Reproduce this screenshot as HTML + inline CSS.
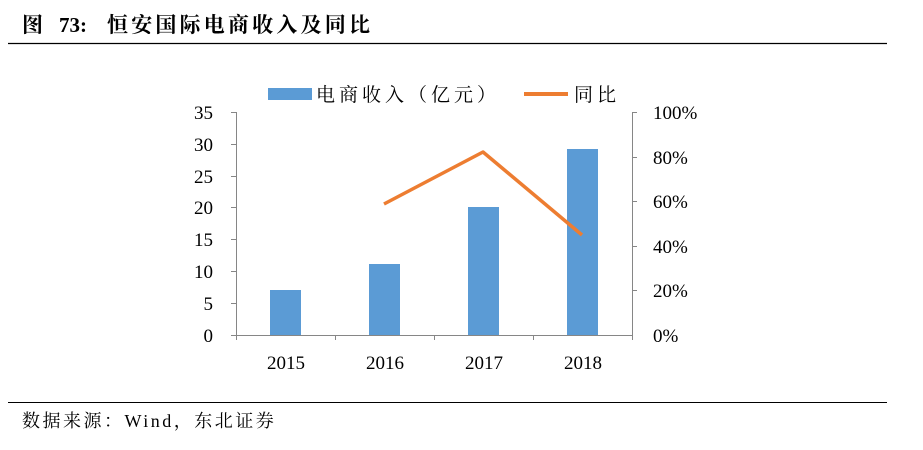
<!DOCTYPE html>
<html><head><meta charset="utf-8"><style>
body{margin:0;background:#fff;width:923px;height:450px;overflow:hidden}
svg{display:block}
</style></head><body>
<svg width="923" height="450" xmlns="http://www.w3.org/2000/svg" font-family="'Liberation Serif','Noto Serif CJK SC',serif">
<g font-size="21" font-weight="bold" fill="#000">
<text x="22" y="32">图</text>
<text x="59" y="32">73:</text>
<text x="107" y="32" letter-spacing="3.2">恒安国际电商收入及同比</text>
</g>
<line x1="8" y1="43.5" x2="887" y2="43.5" stroke="#000" stroke-width="1.2"/>
<rect x="268" y="88" width="44" height="12" fill="#5b9bd5"/>
<text x="316" y="101" font-size="19" letter-spacing="4" fill="#000">电商收入（亿元）</text>
<line x1="524" y1="94" x2="568" y2="94" stroke="#ed7d31" stroke-width="4"/>
<text x="574" y="101" font-size="19" letter-spacing="4" fill="#000">同比</text>
<g stroke="#868686" stroke-width="1">
<line x1="236.5" y1="112" x2="236.5" y2="335"/>
<line x1="632.5" y1="112" x2="632.5" y2="335"/>
<line x1="236" y1="335.5" x2="632" y2="335.5"/>
<line x1="231" y1="112.5" x2="236" y2="112.5"/><line x1="231" y1="144.5" x2="236" y2="144.5"/><line x1="231" y1="176.5" x2="236" y2="176.5"/><line x1="231" y1="207.5" x2="236" y2="207.5"/><line x1="231" y1="239.5" x2="236" y2="239.5"/><line x1="231" y1="271.5" x2="236" y2="271.5"/><line x1="231" y1="303.5" x2="236" y2="303.5"/><line x1="231" y1="335.5" x2="236" y2="335.5"/>
<line x1="632" y1="112.5" x2="637" y2="112.5"/><line x1="632" y1="157.5" x2="637" y2="157.5"/><line x1="632" y1="201.5" x2="637" y2="201.5"/><line x1="632" y1="246.5" x2="637" y2="246.5"/><line x1="632" y1="290.5" x2="637" y2="290.5"/>
<line x1="335.5" y1="335" x2="335.5" y2="340"/><line x1="434.5" y1="335" x2="434.5" y2="340"/><line x1="533.5" y1="335" x2="533.5" y2="340"/><line x1="632.5" y1="335" x2="632.5" y2="340"/><line x1="236.5" y1="335" x2="236.5" y2="340"/>
</g>
<g font-size="19" fill="#000" text-anchor="end">
<text x="213" y="119">35</text><text x="213" y="151">30</text><text x="213" y="183">25</text><text x="213" y="214">20</text><text x="213" y="246">15</text><text x="213" y="278">10</text><text x="213" y="310">5</text><text x="213" y="342">0</text>
</g>
<g font-size="19" fill="#000">
<text x="653" y="119">100%</text><text x="653" y="164">80%</text><text x="653" y="208">60%</text><text x="653" y="253">40%</text><text x="653" y="297">20%</text><text x="653" y="342">0%</text>
</g>
<g font-size="19" fill="#000" text-anchor="middle">
<text x="286" y="369">2015</text><text x="385" y="369">2016</text><text x="484" y="369">2017</text><text x="583" y="369">2018</text>
</g>
<g fill="#5b9bd5">
<rect x="270" y="290" width="31" height="45"/>
<rect x="369" y="264" width="31" height="71"/>
<rect x="468" y="207" width="31" height="128"/>
<rect x="567" y="149" width="31" height="186"/>
</g>
<polyline points="384,204 483,152 582,235" fill="none" stroke="#ed7d31" stroke-width="3.5" stroke-linejoin="round"/>
<line x1="8" y1="402.5" x2="887" y2="402.5" stroke="#000" stroke-width="1"/>
<text x="22" y="427" font-size="18" letter-spacing="2.5" fill="#000">数据来源：Wind，东北证券</text>
</svg>
</body></html>
